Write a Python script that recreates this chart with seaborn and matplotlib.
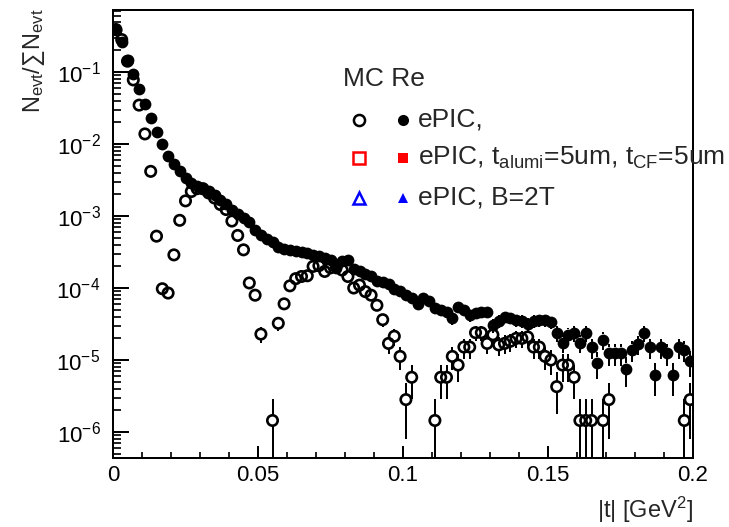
import numpy as np
import pandas as pd
import matplotlib
matplotlib.use("Agg")
import matplotlib.pyplot as plt
import seaborn as sns
from matplotlib.lines import Line2D
from matplotlib.ticker import MultipleLocator, LogLocator, NullFormatter, FuncFormatter

# ---------------- data ----------------
T_MIN, T_MAX, N_BINS = 0.0, 0.2, 100
N_EVT = 6.9e5          # total events (one entry = 1/N_EVT), for Poisson error bars

# log10 of N_evt / sum N_evt per bin, filled markers
filled_log10 = [
    -0.41, -0.58, -0.83, -1.03, -1.24, -1.45, -1.64, -1.84, -2.00, -2.16,
    -2.28, -2.38, -2.47, -2.54, -2.58, -2.62, -2.65, -2.71, -2.78, -2.84,
    -2.91, -2.97, -3.03, -3.08, -3.20, -3.27, -3.32, -3.36, -3.43, -3.46,
    -3.47, -3.49, -3.50, -3.52, -3.54, -3.55, -3.59, -3.61, -3.72, -3.63,
    -3.61, -3.73, -3.77, -3.80, -3.84, -3.90, -3.92, -3.95, -4.02, -4.04,
    -4.10, -4.14, -4.22, -4.14, -4.18, -4.28, -4.31, -4.33, -4.42, -4.26,
    -4.31, -4.38, -4.35, -4.33, -4.33, -4.52, -4.46, -4.40, -4.41, -4.44,
    -4.46, -4.50, -4.46, -4.45, -4.45, -4.47, -4.63, -4.76, -4.65, -4.63,
    -4.76, -4.63, -4.82, -5.04, -4.72, -4.90, -4.90, -4.90, -5.12, -4.86,
    -4.78, -4.63, -4.82, -5.21, -4.82, -4.90, -5.21, -4.82, -4.86, -5.02,
]

# log10 of N_evt / sum N_evt per bin, open markers (None = empty bin)
open_log10 = [
    -0.41, -0.55, -0.85, -1.11, -1.46, -1.86, -2.38, -3.28, -4.01, -4.07,
    -3.54, -3.06, -2.79, -2.66, -2.62, -2.62, -2.68, -2.75, -2.84, -2.91,
    -3.07, -3.27, -3.47, -3.93, -4.10, -4.64, None, -5.84, -4.49, -4.22,
    -3.97, -3.87, -3.84, -3.83, -3.70, -3.69, -3.77, -3.72, -3.70, -3.75,
    -3.84, -4.00, -3.96, -4.05, -4.10, -4.24, -4.44, -4.77, -4.67, -4.95,
    -5.55, -5.24, None, None, None, -5.84, -5.24, -5.24, -4.95, -5.07,
    -4.82, -4.82, -4.62, -4.62, -4.77, -4.65, -4.79, -4.77, -4.74, -4.70,
    -4.70, -4.68, -4.82, -4.82, -4.95, -5.00, -5.37, -5.07, -5.07, -5.24,
    -5.84, -5.84, -5.84, None, -5.84, -5.55, None, None, None, None,
    None, None, None, None, None, None, None, None, -5.84, -5.55,
]

x_tick_values = [0.0, 0.05, 0.1, 0.15, 0.2]
x_tick_labels = ["0", "0.05", "0.1", "0.15", "0.2"]

legend_header = "MC Re"
legend_labels = [
    "ePIC,",
    r"ePIC, t$_{\mathrm{alumi}}$=5um, t$_{\mathrm{CF}}$=5um",
    "ePIC, B=2T",
]
legend_colors = ["black", "red", "blue"]
legend_markers = ["o", "s", "^"]

# ---------------- build tables ----------------
edges = np.linspace(T_MIN, T_MAX, N_BINS + 1)
centers = 0.5 * (edges[:-1] + edges[1:])

def to_frame(logs):
    v = np.array([np.nan if l is None else 10.0 ** l for l in logs])
    df = pd.DataFrame({"t": centers, "val": v}).dropna().reset_index(drop=True)
    err = np.sqrt(df["val"] / N_EVT)
    df["lo"] = np.where(df["val"] - err > 0, df["val"] - err, 1e-12)
    df["hi"] = df["val"] + err
    return df

df_filled = to_frame(filled_log10)
df_open = to_frame(open_log10)

# ---------------- style ----------------
sns.set_theme(style="ticks")
plt.rcParams['font.family'] = ['Liberation Sans', 'DejaVu Sans']
plt.rcParams['mathtext.fontset'] = 'custom'
plt.rcParams['mathtext.rm'] = 'Liberation Sans'
plt.rcParams['mathtext.it'] = 'Liberation Sans'
plt.rcParams['mathtext.bf'] = 'Liberation Sans:bold'
plt.rcParams['mathtext.sf'] = 'Liberation Sans'

W, H = 729, 527
fig = plt.figure(figsize=(W / 100, H / 100), dpi=100)
fig.patch.set_facecolor("white")

def fx(px):
    return px / W

def fy(py):
    return 1 - py / H

ax = fig.add_axes([fx(113), fy(458), fx(693) - fx(113), fy(10) - fy(458)])
ax.set_facecolor("white")
ax.set_yscale("log")
ax.set_xlim(T_MIN, T_MAX)
ax.set_ylim(10 ** -6.361, 10 ** -0.139)

LW = 1.44
R_PX = 5.5   # marker radius in pixels: error bars stop at the marker edge

def draw_bars(df):
    pts = ax.transData.transform(np.column_stack([df["t"], df["val"]]))
    inv = ax.transData.inverted()
    up = inv.transform(pts + np.array([0, R_PX]))[:, 1]
    dn = inv.transform(pts - np.array([0, R_PX]))[:, 1]
    m_up = df["hi"].values > up
    m_dn = df["lo"].values < dn
    ax.vlines(df["t"].values[m_up], up[m_up], df["hi"].values[m_up],
              colors="black", linewidth=LW, zorder=2)
    ax.vlines(df["t"].values[m_dn], df["lo"].values[m_dn], dn[m_dn],
              colors="black", linewidth=LW, zorder=2)

draw_bars(df_filled)
draw_bars(df_open)

sns.scatterplot(data=df_filled, x="t", y="val", marker="o", s=72,
                color="black", edgecolor="black", linewidth=0, ax=ax,
                legend=False, zorder=3)
sns.scatterplot(data=df_open, x="t", y="val", marker="o", s=56,
                facecolor="none", edgecolor="black", linewidth=1.9, ax=ax,
                legend=False, zorder=4)

ax.set_xlim(T_MIN, T_MAX)
ax.set_ylim(10 ** -6.361, 10 ** -0.139)
ax.set_xlabel("")
ax.set_ylabel("")
ax.xaxis.label.set_visible(False)
ax.yaxis.label.set_visible(False)
ax.xaxis.offsetText.set_visible(False)
ax.yaxis.offsetText.set_visible(False)

# ticks
ax.set_xticks(x_tick_values)
ax.set_xticklabels(x_tick_labels)
ax.xaxis.set_minor_locator(MultipleLocator(0.01))
ax.yaxis.set_major_locator(LogLocator(base=10, numticks=20))
ax.yaxis.set_major_formatter(FuncFormatter(lambda v, p: r"$10^{%d}$" % int(round(np.log10(v)))))
ax.yaxis.set_minor_locator(LogLocator(base=10, subs=np.arange(2, 10), numticks=20))
ax.yaxis.set_minor_formatter(NullFormatter())

ax.tick_params(axis="x", which="major", direction="in", length=8.6, width=LW,
               labelsize=16, pad=5, top=False, colors="black")
ax.tick_params(axis="x", which="minor", direction="in", length=4.3, width=LW, top=False)
ax.tick_params(axis="y", which="major", direction="in", length=11.5, width=LW,
               labelsize=16, pad=9, right=False, colors="black")
ax.tick_params(axis="y", which="minor", direction="in", length=5.8, width=LW, right=False)

for s in ax.spines.values():
    s.set_visible(True)
    s.set_linewidth(LW)
    s.set_color("black")
    s.set_zorder(5)

# axis titles
fig.text(fx(693), fy(518), r"|t| [GeV$^{2}$]", ha="right", va="baseline", fontsize=17)
fig.text(fx(34), fy(8), r"N$_{\mathrm{evt}}$/$\sum$N$_{\mathrm{evt}}$", rotation=90,
         ha="center", va="top", fontsize=17)

# legend
fig.text(fx(343), fy(79), legend_header, ha="left", va="center", fontsize=19)
row_y = [120, 157.5, 198]
for lab, col, mk, yy in zip(legend_labels, legend_colors, legend_markers, row_y):
    ms_open = 8.0 if mk != "^" else 9.0
    ms_fill = 8.0 if mk == "o" else 7.0
    fig.add_artist(Line2D([fx(359)], [fy(yy)], marker=mk, ms=ms_open, mfc="none",
                          mec=col, mew=1.8, linestyle="none", transform=fig.transFigure))
    fig.add_artist(Line2D([fx(403)], [fy(yy)], marker=mk, ms=ms_fill, mfc=col,
                          mec=col, mew=0, linestyle="none", transform=fig.transFigure))
    fig.text(fx(418), fy(yy), lab, ha="left", va="center", fontsize=19)

fig.savefig("out.png", dpi=100, facecolor="white")
